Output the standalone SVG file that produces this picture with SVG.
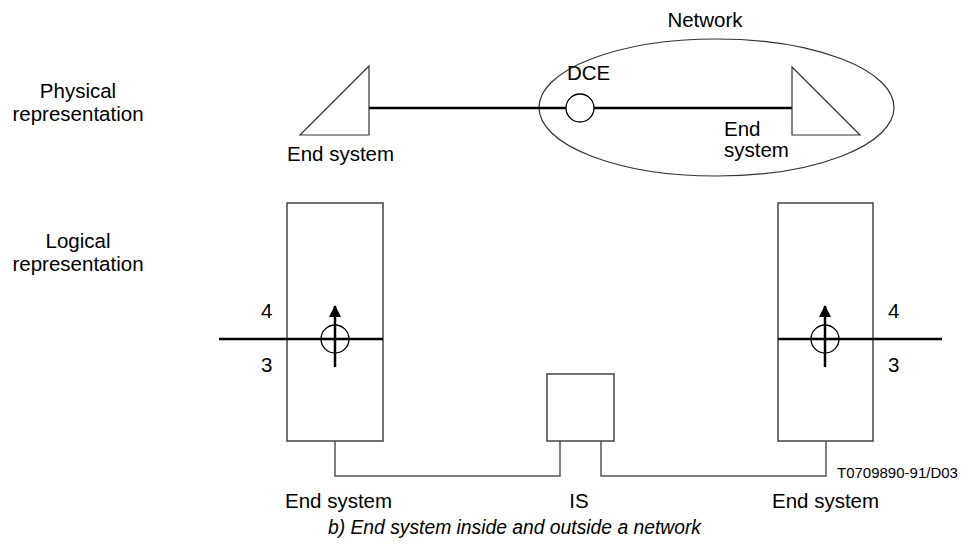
<svg xmlns="http://www.w3.org/2000/svg" width="966" height="556" viewBox="0 0 966 556">
<style>
text{font-family:"Liberation Sans",Arial,sans-serif;font-size:20.5px;fill:#000}
.thin{fill:none;stroke:#333;stroke-width:1.2}
.box{fill:#fff;stroke:#444;stroke-width:1.5}
.bold{fill:none;stroke:#000;stroke-width:2.5}
.circ{fill:none;stroke:#000;stroke-width:1.3}
.arr{stroke:#000;stroke-width:2.5;marker-end:url(#ah)}
.mid{text-anchor:middle}
</style>
<defs>
<marker id="ah" markerWidth="12" markerHeight="12" refX="11" refY="6" orient="auto" markerUnits="userSpaceOnUse" viewBox="0 0 12 12">
<path d="M0,0 L12,6 L0,12 Z" fill="#000"/>
</marker>
</defs>
<rect width="966" height="556" fill="#fff"/>
<g id="labels">
<text class="mid" x="78" y="98">Physical</text>
<text class="mid" x="78" y="121">representation</text>
<text class="mid" x="78" y="248">Logical</text>
<text class="mid" x="78" y="271">representation</text>
</g>
<g id="network">
<ellipse cx="716.5" cy="107.5" rx="177.5" ry="68.5" class="thin"/>
<text class="mid" x="705" y="27">Network</text>
</g>
<g id="connectors">
<line x1="369" y1="108" x2="566" y2="108" class="bold"/>
<line x1="594" y1="108" x2="792" y2="108" class="bold"/>
<polyline points="335,441 335,476 560,476 560,441" class="thin" style="stroke-width:1.5;stroke:#555"/>
<polyline points="601,441 601,476 826,476 826,441" class="thin" style="stroke-width:1.5;stroke:#555"/>
</g>
<g id="es-phys-left">
<polygon points="300,135 369,66 369,135" class="thin"/>
<text x="287" y="161">End system</text>
</g>
<g id="dce">
<circle cx="580" cy="108" r="14" class="circ"/>
<text x="567" y="80">DCE</text>
</g>
<g id="es-phys-right">
<polygon points="792,67 792,135 860,135" class="thin"/>
<text x="724" y="136">End</text>
<text x="724" y="157">system</text>
</g>
<g id="es-log-left">
<rect x="287" y="203" width="96" height="238" class="box"/>
<line x1="219" y1="339" x2="383" y2="339" class="bold"/>
<circle cx="335" cy="339" r="14" class="circ"/>
<line x1="335" y1="367" x2="335" y2="306" class="arr"/>
<text x="261" y="318">4</text>
<text x="261" y="372">3</text>
<text x="285" y="508">End system</text>
</g>
<g id="is">
<rect x="547" y="374" width="67" height="67" class="box"/>
<text class="mid" x="579" y="508">IS</text>
</g>
<g id="es-log-right">
<rect x="778" y="203" width="95" height="238" class="box"/>
<line x1="778" y1="339" x2="942" y2="339" class="bold"/>
<circle cx="825" cy="339" r="14" class="circ"/>
<line x1="825" y1="367" x2="825" y2="306" class="arr"/>
<text x="888" y="318">4</text>
<text x="888" y="372">3</text>
<text x="772" y="508">End system</text>
</g>
<g id="captions">
<text x="837" y="478" style="font-size:15px">T0709890-91/D03</text>
<text x="328" y="534" style="font-size:19.3px;font-style:italic">b) End system inside and outside a network</text>
</g>
</svg>
